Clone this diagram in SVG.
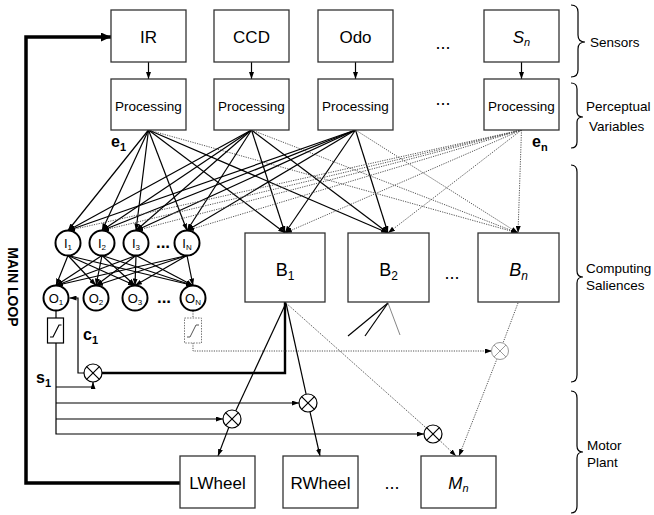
<svg xmlns="http://www.w3.org/2000/svg" width="654" height="515" viewBox="0 0 654 515">
  <defs>
    <marker id="ah" viewBox="0 0 7 5" refX="7" refY="2.5" markerWidth="7" markerHeight="5" markerUnits="userSpaceOnUse" orient="auto">
      <path d="M0,0 L7,2.5 L0,5 z" fill="#000"/>
    </marker>
    <marker id="ahBig" viewBox="0 0 10 9" refX="10" refY="4.5" markerWidth="10" markerHeight="9" markerUnits="userSpaceOnUse" orient="auto">
      <path d="M0,0 L10,4.5 L0,9 z" fill="#000"/>
    </marker>
  </defs>
  <style>
    text { font-family: "Liberation Sans", Arial, Helvetica, sans-serif; fill: #000; }
    .box { fill: #fff; stroke: #333; stroke-width: 1.3; }
    .sl { stroke: #000; stroke-width: 1.2; fill: none; }
    .sla { stroke: #000; stroke-width: 1.2; fill: none; marker-end: url(#ah); }
    .dl { stroke: #555; stroke-width: 1; stroke-dasharray: 1.2 1.2; fill: none; }
    .dla { stroke: #555; stroke-width: 1; stroke-dasharray: 1.2 1.2; fill: none; marker-end: url(#ah); }
    .gl { stroke: #777; stroke-width: 0.9; fill: none; }
    .thick { stroke: #000; stroke-width: 3.5; fill: none; }
    .med { stroke: #000; stroke-width: 2.4; fill: none; }
    .neuron { fill: #fff; stroke: #000; stroke-width: 2; }
    .mult { fill: #fff; stroke: #000; stroke-width: 1.2; }
    .multg { fill: #fff; stroke: #999; stroke-width: 1; }
    .brace { stroke: #000; stroke-width: 1.2; fill: none; }
    .lbl { font-size: 17px; }
    .proc { font-size: 13.5px; }
    .side { font-size: 13.5px; }
    .bl { font-size: 18px; }
    .dots { font-size: 18px; }
    .bdots { font-size: 17px; font-weight: bold; }
    .var { font-size: 16px; font-weight: bold; }
    .nl { font-size: 13px; }
  </style>

  <!-- connectors -->
  <g id="connectors">
    <!-- sensor to processing -->
    <line class="sla" x1="148.5" y1="62" x2="148.5" y2="79"/>
    <line class="sla" x1="251.5" y1="62" x2="251.5" y2="79"/>
    <line class="sla" x1="355.5" y1="62" x2="355.5" y2="79"/>
    <line class="sla" x1="521.5" y1="62" x2="521.5" y2="79"/>

    <!-- e1 outputs -->
    <line class="sla" x1="148.5" y1="130" x2="68" y2="230.5"/>
    <line class="sla" x1="148.5" y1="130" x2="102" y2="230.5"/>
    <line class="sla" x1="148.5" y1="130" x2="136" y2="230.5"/>
    <line class="sla" x1="148.5" y1="130" x2="187" y2="230.5"/>
    <line class="sla" x1="148.5" y1="130" x2="285" y2="233"/>
    <line class="sla" x1="148.5" y1="130" x2="388" y2="233"/>
    <line class="dla" x1="148.5" y1="130" x2="518" y2="233"/>
    <!-- e2 outputs -->
    <line class="sla" x1="251.5" y1="130" x2="68" y2="230.5"/>
    <line class="sla" x1="251.5" y1="130" x2="102" y2="230.5"/>
    <line class="sla" x1="251.5" y1="130" x2="136" y2="230.5"/>
    <line class="sla" x1="251.5" y1="130" x2="187" y2="230.5"/>
    <line class="sla" x1="251.5" y1="130" x2="285" y2="233"/>
    <line class="sla" x1="251.5" y1="130" x2="388" y2="233"/>
    <line class="dla" x1="251.5" y1="130" x2="518" y2="233"/>
    <!-- e3 outputs -->
    <line class="sla" x1="355.5" y1="130" x2="68" y2="230.5"/>
    <line class="sla" x1="355.5" y1="130" x2="102" y2="230.5"/>
    <line class="sla" x1="355.5" y1="130" x2="136" y2="230.5"/>
    <line class="sla" x1="355.5" y1="130" x2="187" y2="230.5"/>
    <line class="sla" x1="355.5" y1="130" x2="285" y2="233"/>
    <line class="sla" x1="355.5" y1="130" x2="388" y2="233"/>
    <line class="dla" x1="355.5" y1="130" x2="518" y2="233"/>
    <!-- en outputs -->
    <line class="dla" x1="521.5" y1="130" x2="68" y2="230.5"/>
    <line class="dla" x1="521.5" y1="130" x2="102" y2="230.5"/>
    <line class="dla" x1="521.5" y1="130" x2="136" y2="230.5"/>
    <line class="dla" x1="521.5" y1="130" x2="187" y2="230.5"/>
    <line class="dla" x1="521.5" y1="130" x2="285" y2="233"/>
    <line class="dla" x1="521.5" y1="130" x2="388" y2="233"/>
    <line class="dla" x1="521.5" y1="130" x2="518" y2="233"/>

    <!-- input layer to output layer -->
    <line class="sla" x1="68" y1="255.5" x2="56" y2="285.5"/>
    <line class="sla" x1="68" y1="255.5" x2="96" y2="285.5"/>
    <line class="sla" x1="68" y1="255.5" x2="135" y2="285.5"/>
    <line class="sla" x1="68" y1="255.5" x2="193" y2="285.5"/>
    <line class="sla" x1="102" y1="255.5" x2="56" y2="285.5"/>
    <line class="sla" x1="102" y1="255.5" x2="96" y2="285.5"/>
    <line class="sla" x1="102" y1="255.5" x2="135" y2="285.5"/>
    <line class="sla" x1="102" y1="255.5" x2="193" y2="285.5"/>
    <line class="sla" x1="136" y1="255.5" x2="56" y2="285.5"/>
    <line class="sla" x1="136" y1="255.5" x2="96" y2="285.5"/>
    <line class="sla" x1="136" y1="255.5" x2="135" y2="285.5"/>
    <line class="sla" x1="136" y1="255.5" x2="193" y2="285.5"/>
    <line class="sla" x1="187" y1="255.5" x2="56" y2="285.5"/>
    <line class="sla" x1="187" y1="255.5" x2="96" y2="285.5"/>
    <line class="sla" x1="187" y1="255.5" x2="135" y2="285.5"/>
    <line class="sla" x1="187" y1="255.5" x2="193" y2="285.5"/>

    <!-- O1 through its limiter to the s1 bus -->
    <line class="sl" x1="56" y1="311" x2="56" y2="318"/>
    <path class="sl" d="M56,343 V434 H424" marker-end="url(#ah)"/>
    <path class="sl" d="M56,387 H93 V382" marker-end="url(#ah)"/>
    <line class="sla" x1="56" y1="403" x2="299" y2="403"/>
    <line class="sla" x1="56" y1="419" x2="223" y2="419"/>

    <!-- c1 back into O1 -->
    <path class="sl" d="M84,373 H78 V298 H69.5" marker-end="url(#ah)"/>
    <!-- B1 salience into the first multiplier -->
    <path class="med" d="M285,302 V373 H102"/>

    <!-- ON limiter (dotted) to the Bn multiplier -->
    <line class="dl" x1="193" y1="311" x2="193" y2="318"/>
    <path class="dl" d="M193,343 V351 H492" marker-end="url(#ah)"/>

    <!-- B1 outputs -->
    <line class="sl" x1="286" y1="303" x2="235.8" y2="410.8"/>
    <line class="sla" x1="228.8" y1="427.4" x2="218" y2="456"/>
    <line class="sl" x1="286" y1="303" x2="306.1" y2="394.2"/>
    <line class="sla" x1="310" y1="411.8" x2="320" y2="456"/>
    <line class="dl" x1="286" y1="303" x2="426.3" y2="428"/>
    <line class="dla" x1="439.5" y1="440.2" x2="456" y2="456"/>

    <!-- B2 outputs -->
    <line class="sl" x1="388" y1="303" x2="348" y2="336"/>
    <line class="sl" x1="388" y1="303" x2="365" y2="336"/>
    <line class="gl" x1="388" y1="303" x2="400" y2="335"/>

    <!-- Bn outputs -->
    <line class="dl" x1="518" y1="303" x2="502.8" y2="343.5"/>
    <line class="dla" x1="497.1" y1="358.5" x2="459" y2="456"/>

    <!-- main loop -->
    <path class="thick" d="M180,483 H26 V37 H111" marker-end="url(#ahBig)"/>
  </g>

  <!-- sensors -->
  <g id="sensor-ir"><rect class="box" x="111" y="10" width="75" height="52"/><text class="lbl" x="148.5" y="42.5" text-anchor="middle">IR</text></g>
  <g id="sensor-ccd"><rect class="box" x="214" y="10" width="75" height="52"/><text class="lbl" x="251.5" y="42.5" text-anchor="middle">CCD</text></g>
  <g id="sensor-odo"><rect class="box" x="318" y="10" width="75" height="52"/><text class="lbl" x="355.5" y="42.5" text-anchor="middle">Odo</text></g>
  <g id="sensor-n"><rect class="box" x="484" y="10" width="75" height="52"/><text class="lbl" x="521.5" y="42.5" text-anchor="middle" font-style="italic">S<tspan font-size="11" dy="3">n</tspan></text></g>
  <text class="dots" x="443" y="49" text-anchor="middle">...</text>

  <!-- processing -->
  <g id="proc-1"><rect class="box" x="111" y="79" width="75" height="51"/><text class="proc" x="148.5" y="111" text-anchor="middle">Processing</text></g>
  <g id="proc-2"><rect class="box" x="214" y="79" width="75" height="51"/><text class="proc" x="251.5" y="111" text-anchor="middle">Processing</text></g>
  <g id="proc-3"><rect class="box" x="318" y="79" width="75" height="51"/><text class="proc" x="355.5" y="111" text-anchor="middle">Processing</text></g>
  <g id="proc-n"><rect class="box" x="484" y="79" width="75" height="51"/><text class="proc" x="521.5" y="111" text-anchor="middle">Processing</text></g>
  <text class="dots" x="443" y="105" text-anchor="middle">...</text>
  <text class="var" x="111" y="147">e<tspan font-size="11" dy="4">1</tspan></text>
  <text class="var" x="532" y="147">e<tspan font-size="11" dy="4">n</tspan></text>

  <!-- input neurons -->
  <g id="i1"><circle class="neuron" cx="68" cy="243" r="12.5"/><text class="nl" x="68" y="248" text-anchor="middle">I<tspan font-size="8" dy="2">1</tspan></text></g>
  <g id="i2"><circle class="neuron" cx="102" cy="243" r="12.5"/><text class="nl" x="102" y="248" text-anchor="middle">I<tspan font-size="8" dy="2">2</tspan></text></g>
  <g id="i3"><circle class="neuron" cx="136" cy="243" r="12.5"/><text class="nl" x="136" y="248" text-anchor="middle">I<tspan font-size="8" dy="2">3</tspan></text></g>
  <g id="iN"><circle class="neuron" cx="187" cy="243" r="12.5"/><text class="nl" x="187" y="248" text-anchor="middle">I<tspan font-size="8" dy="2">N</tspan></text></g>
  <text class="bdots" x="163" y="248" text-anchor="middle">...</text>

  <!-- output neurons -->
  <g id="o1"><circle class="neuron" cx="56" cy="298" r="12.5"/><text class="nl" x="56" y="302.5" text-anchor="middle" font-size="12">O<tspan font-size="8" dy="2">1</tspan></text></g>
  <g id="o2"><circle class="neuron" cx="96" cy="298" r="12.5"/><text class="nl" x="96" y="302.5" text-anchor="middle" font-size="12">O<tspan font-size="8" dy="2">2</tspan></text></g>
  <g id="o3"><circle class="neuron" cx="135" cy="298" r="12.5"/><text class="nl" x="135" y="302.5" text-anchor="middle" font-size="12">O<tspan font-size="8" dy="2">3</tspan></text></g>
  <g id="oN"><circle class="neuron" cx="193" cy="298" r="12.5"/><text class="nl" x="193" y="302.5" text-anchor="middle" font-size="12">O<tspan font-size="8" dy="2">N</tspan></text></g>
  <text class="bdots" x="164" y="303" text-anchor="middle">...</text>

  <!-- limiters -->
  <g id="limiter-1">
    <rect x="47.5" y="318" width="16" height="25" fill="#fff" stroke="#000" stroke-width="1.2"/>
    <path class="sl" d="M50,337 H53 L59,325 H61.5"/>
  </g>
  <g id="limiter-n">
    <rect x="184.5" y="318" width="17" height="25" fill="#fff" stroke="#777" stroke-width="1" stroke-dasharray="1.5 1.2"/>
    <path d="M187,337 H190 L196,325 H199" fill="none" stroke="#555" stroke-width="1"/>
  </g>
  <text class="var" x="83" y="340">c<tspan font-size="11" dy="4">1</tspan></text>
  <text class="var" x="36" y="383">s<tspan font-size="11" dy="4">1</tspan></text>

  <!-- behaviours -->
  <g id="b1"><rect class="box" x="245" y="233" width="80" height="69"/><text class="bl" x="285" y="276" text-anchor="middle">B<tspan font-size="12" dy="4">1</tspan></text></g>
  <g id="b2"><rect class="box" x="348" y="233" width="81" height="69"/><text class="bl" x="388.5" y="276" text-anchor="middle">B<tspan font-size="12" dy="4">2</tspan></text></g>
  <g id="bn"><rect class="box" x="478" y="233" width="81" height="69"/><text class="bl" x="518.5" y="276" text-anchor="middle" font-style="italic">B<tspan font-size="12" dy="4">n</tspan></text></g>
  <text class="dots" x="452" y="279" text-anchor="middle">...</text>

  <!-- multipliers -->
  <g id="mult-c1"><circle class="mult" cx="93" cy="373" r="9"/><path class="sl" d="M86.6,366.6 L99.4,379.4 M99.4,366.6 L86.6,379.4"/></g>
  <g id="mult-l"><circle class="mult" cx="232" cy="419" r="9"/><path class="sl" d="M225.6,412.6 L238.4,425.4 M238.4,412.6 L225.6,425.4"/></g>
  <g id="mult-r"><circle class="mult" cx="308" cy="403" r="9"/><path class="sl" d="M301.6,396.6 L314.4,409.4 M314.4,396.6 L301.6,409.4"/></g>
  <g id="mult-m"><circle class="mult" cx="433" cy="434" r="9"/><path class="sl" d="M426.6,427.6 L439.4,440.4 M439.4,427.6 L426.6,440.4"/></g>
  <g id="mult-bn"><circle class="multg" cx="500" cy="351" r="8.5"/><path d="M494,345 L506,357 M506,345 L494,357" stroke="#999" stroke-width="1" fill="none"/></g>

  <!-- motors -->
  <g id="lwheel"><rect class="box" x="180" y="456" width="75" height="52"/><text class="lbl" x="217.5" y="488.5" text-anchor="middle">LWheel</text></g>
  <g id="rwheel"><rect class="box" x="283" y="456" width="75" height="52"/><text class="lbl" x="320.5" y="488.5" text-anchor="middle">RWheel</text></g>
  <g id="motor-n"><rect class="box" x="421" y="456" width="75" height="52"/><text class="lbl" x="458.5" y="488.5" text-anchor="middle" font-style="italic">M<tspan font-size="11" dy="3">n</tspan></text></g>
  <text class="dots" x="392" y="489" text-anchor="middle">...</text>

  <!-- loop label -->
  <text transform="translate(8,287) rotate(90)" text-anchor="middle" font-size="14" font-weight="bold">MAIN LOOP</text>

  <!-- layer braces -->
  <g id="brace-sensors">
    <path class="brace" d="M571,5 Q578,5 578,12 V35 Q578,42 585,42 Q578,42 578,49 V70 Q578,77 571,77"/>
    <text class="side" x="590" y="47">Sensors</text>
  </g>
  <g id="brace-perceptual">
    <path class="brace" d="M571,83 Q577,83 577,89 V112 Q577,117 583,117 Q577,117 577,122 V142 Q577,148 571,148"/>
    <text class="side" x="586" y="111">Perceptual</text>
    <text class="side" x="589" y="131">Variables</text>
  </g>
  <g id="brace-computing">
    <path class="brace" d="M571,165 Q577,165 577,172 V271 Q577,277 583,277 Q577,277 577,283 V375 Q577,382 571,382"/>
    <text class="side" x="586" y="273">Computing</text>
    <text class="side" x="586" y="290">Saliences</text>
  </g>
  <g id="brace-motor">
    <path class="brace" d="M571,391 Q577,391 577,398 V446 Q577,452 583,452 Q577,452 577,458 V506 Q577,513 571,513"/>
    <text class="side" x="587" y="450">Motor</text>
    <text class="side" x="587" y="467">Plant</text>
  </g>
</svg>
